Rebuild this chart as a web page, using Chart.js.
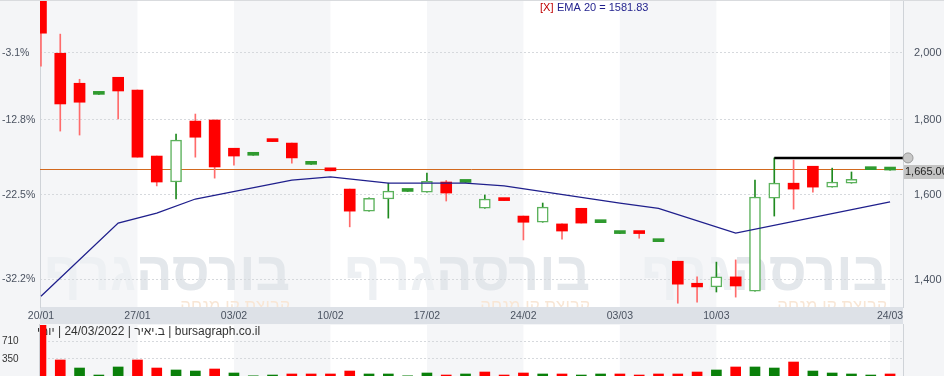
<!DOCTYPE html>
<html>
<head>
<meta charset="utf-8">
<script src="https://cdn.jsdelivr.net/npm/chart.js@4.4.0/dist/chart.umd.min.js"></script>
<style>
html, body { margin: 0; padding: 0; background: #fff; overflow: hidden; }
#wrap { position: relative; width: 944px; height: 376px; }
#main { position: absolute; left: 0; top: 0; }
#vol { position: absolute; left: 0; top: 324px; }
</style>
</head>
<body>
<div id="wrap">
  <canvas id="main" width="944" height="324"></canvas>
  <canvas id="vol" width="944" height="52"></canvas>
</div>
<script>
// trading days
const dates = ['20/01','23/01','24/01','25/01','26/01','27/01','30/01','31/01','01/02','02/02',
  '03/02','06/02','07/02','08/02','09/02','10/02','13/02','14/02','15/02','16/02',
  '17/02','20/02','21/02','22/02','23/02','24/02','27/02','28/02','01/03','02/03',
  '03/03','06/03','07/03','08/03','09/03','10/03','13/03','14/03','15/03','16/03',
  '20/03','21/03','22/03','23/03','24/03'];

const opens  = [2200,1998,1906,1873,1924,1886,1700,1632,1796,1799,1721,1702,1741,1735,1678,1665,1614,1559,1589,1608,
  1606,1632,1631,1566,1587,1547,1532,1528,1566,1531,1505,1507,1486,1441,1392,1384,1406,1375,1591,1629,
  1673,1619,1629,1664,1663];
const highs  = [2230,2059,1918,1875,1924,1886,1700,1760,1816,1799,1721,1704,1741,1735,1680,1665,1614,1592,1629,1610,
  1655,1636,1633,1599,1587,1547,1579,1528,1566,1533,1507,1507,1488,1441,1406,1439,1444,1637,1695,1689,
  1673,1668,1658,1666,1665];
const lows   = [1958,1768,1757,1873,1802,1697,1622,1589,1697,1642,1676,1702,1739,1681,1678,1661,1521,1559,1542,1608,
  1606,1584,1631,1566,1585,1490,1532,1492,1530,1531,1505,1494,1486,1349,1351,1373,1362,1375,1547,1564,
  1606,1619,1629,1664,1663];
const closes = [2062,1845,1850,1875,1883,1697,1632,1743,1751,1671,1700,1704,1739,1695,1680,1661,1559,1591,1609,1610,
  1634,1604,1633,1589,1585,1532,1569,1511,1530,1533,1507,1505,1488,1390,1384,1406,1386,1594,1629,1614,
  1619,1632,1639,1666,1665];
const volumes = [1150,325,162,20,183,325,162,122,101,142,61,4,20,41,41,41,101,41,41,4,
  61,20,41,81,20,61,41,41,20,41,41,20,41,41,81,122,183,183,162,284,
  101,61,41,20,41];

// EMA 20
const emaIdx  = [0,4,6,8,13,15,18,22,24,30,32,36,44];
const emaVals = [1364,1530,1554,1589,1637,1645,1629,1629,1622,1579,1566,1506,1581.83];

const tickIdx = [0,5,10,15,20,25,30,35,44];
const priceTicks = [1400,1600,1800,2000];
const volTicks = [350,710];
const baseClose = 2064;   // reference for the % axis
const lastPrice = 1665;
const trendFrom = 38;     // horizontal line from this candle's high
const trendEndX = 44.93;

const xMin = -0.05, xMax = 44.67;
const yMin = 1341, yMax = 2169;
const FONT = '"Liberation Sans", "DejaVu Sans", Arial, sans-serif';

const RED = '#ff0000', GREEN_LINE = '#5cb25c', GREEN_WICK = '#1f8a1f';

const bodyBg = [], bodyBorder = [], bodyBw = [], wickColor = [];
opens.forEach((o, i) => {
  const c = closes[i];
  const flat = Math.abs(c - o) / o < 0.003;
  const up = c >= o;
  if (!up) { bodyBg.push(RED); bodyBorder.push(RED); bodyBw.push(0); wickColor.push('#ff6b6b'); }
  else if (flat) { bodyBg.push('#2f9a2f'); bodyBorder.push('#2f9a2f'); bodyBw.push(0); wickColor.push(GREEN_WICK); }
  else { bodyBg.push('#ffffff'); bodyBorder.push(GREEN_LINE); bodyBw.push(1.5); wickColor.push(GREEN_WICK); }
});
const volColors = volumes.map((v, i) => (i > 0 && closes[i] >= closes[i - 1]) ? '#0a800a' : RED);

// no extra room for the edge labels
const noPad = s => { s.paddingTop = 0; s.paddingBottom = 0; s.paddingLeft = 0; s.paddingRight = 0; };

function bandEdges(chart) {
  const a = chart.chartArea, x = chart.scales.x;
  return [a.left].concat(tickIdx.slice(1).map(v => x.getPixelForValue(v)), [a.right]);
}

function paintBackground(chart) {
  const ctx = chart.ctx, a = chart.chartArea;
  ctx.save();
  ctx.fillStyle = '#f4f5f7';
  ctx.fillRect(0, 0, chart.width, chart.height);
  const e = bandEdges(chart);
  for (let k = 0; k < e.length - 1; k++) {
    ctx.fillStyle = k % 2 ? '#ffffff' : '#f5f6f8';
    ctx.fillRect(e[k], a.top, e[k + 1] - e[k], a.bottom - a.top);
  }
  ctx.restore();
}

function drawWatermark(ctx, right, base) {
  ctx.save();
  ctx.textAlign = 'right';
  ctx.textBaseline = 'alphabetic';
  ctx.font = 'bold 54px ' + FONT;
  ctx.fillStyle = '#e3e7eb';
  ctx.fillText('בורסה', right, base);
  const w = ctx.measureText('בורסה').width;
  ctx.fillStyle = '#edf0f3';
  ctx.fillText('גרף', right - w, base);
  ctx.font = '17px ' + FONT;
  ctx.fillStyle = '#f8e6d5';
  ctx.fillText('קבוצת קו מנחה', right, base + 21);
  ctx.restore();
}

const mainBg = {
  id: 'mainBg',
  beforeDraw(chart) {
    const ctx = chart.ctx, a = chart.chartArea;
    paintBackground(chart);
    ctx.save();
    ctx.beginPath();
    ctx.rect(a.left, a.top, a.right - a.left, chart.height - a.top);
    ctx.clip();
    [290, 590, 887].forEach(r => drawWatermark(ctx, r, 290));
    ctx.restore();
    ctx.save();
    ctx.fillStyle = '#dde1e7';
    ctx.fillRect(a.left, a.bottom, a.right - a.left, chart.height - a.bottom);
    ctx.fillStyle = '#d9dbde';
    ctx.fillRect(0, 0, chart.width, 1);
    ctx.restore();
  },
  beforeDatasetsDraw(chart) {
    const ctx = chart.ctx, a = chart.chartArea;
    const py = Math.round(chart.scales.y.getPixelForValue(lastPrice)) + 0.5;
    ctx.save();
    ctx.strokeStyle = '#d2691e';
    ctx.lineWidth = 1;
    ctx.beginPath();
    ctx.moveTo(a.left, py);
    ctx.lineTo(a.right, py);
    ctx.stroke();
    ctx.restore();
  },
  afterDraw(chart) {
    const ctx = chart.ctx, a = chart.chartArea;
    const py = Math.round(chart.scales.y.getPixelForValue(lastPrice));
    ctx.save();
    ctx.fillStyle = '#c4c4c4';
    ctx.fillRect(a.right + 1, py - 4, chart.width - a.right - 1, 14);
    ctx.fillStyle = '#222';
    ctx.font = '11px ' + FONT;
    ctx.textBaseline = 'middle';
    ctx.textAlign = 'left';
    ctx.fillText(lastPrice.toLocaleString('en-US', {minimumFractionDigits: 2}), a.right + 2, py + 3);
    // legend
    ctx.font = '11px ' + FONT;
    ctx.textBaseline = 'alphabetic';
    ctx.fillStyle = '#c00000';
    ctx.fillText('[X]', 540, 11);
    ctx.fillStyle = '#1f1f8c';
    ctx.fillText('EMA 20 = ' + emaVals[emaVals.length - 1].toFixed(2), 557, 11);
    ctx.restore();
  }
};

const axisFont = { family: FONT, size: 11 };

new Chart(document.getElementById('main'), {
  type: 'bar',
  data: {
    datasets: [
      {
        type: 'line', order: 1,
        data: [{ x: trendFrom, y: highs[trendFrom] }, { x: trendEndX, y: highs[trendFrom] }],
        borderColor: '#000', borderWidth: 2.5,
        pointRadius: [0, 5], pointBackgroundColor: '#c8c8c8', pointBorderColor: '#9a9a9a', pointBorderWidth: 1,
        clip: false
      },
      {
        type: 'line', order: 2,
        data: emaIdx.map((x, k) => ({ x: x, y: emaVals[k] })),
        borderColor: '#1f1f8c', borderWidth: 1.3, pointRadius: 0, tension: 0
      },
      {
        order: 3, grouped: false,
        data: opens.map((o, i) => ({ x: i, y: [o, closes[i]] })),
        backgroundColor: bodyBg, borderColor: bodyBorder, borderWidth: bodyBw,
        borderSkipped: false, barThickness: 11, minBarLength: 3
      },
      {
        order: 4, grouped: false,
        data: lows.map((l, i) => ({ x: i, y: [l, highs[i]] })),
        backgroundColor: wickColor, borderWidth: 0, barThickness: 1
      }
    ]
  },
  options: {
    responsive: false, animation: false, events: [],
    layout: { autoPadding: false, padding: { top: 1, left: 2 } },
    plugins: { legend: { display: false }, tooltip: { enabled: false } },
    scales: {
      x: {
        type: 'linear', min: xMin, max: xMax, offset: false, bounds: 'data',
        afterFit: s => { s.height = 17; noPad(s); },
        afterBuildTicks: s => { s.ticks = tickIdx.map(v => ({ value: v })); },
        grid: { display: false, drawTicks: false }, border: { display: false },
        ticks: { callback: v => dates[v], autoSkip: false, maxRotation: 0, padding: 3,
          color: '#4a5260', font: { family: FONT, size: 10.5 } }
      },
      y: {
        type: 'logarithmic', position: 'right', min: yMin, max: yMax, bounds: 'data',
        afterFit: s => { s.width = 41; noPad(s); },
        afterBuildTicks: s => { s.ticks = priceTicks.map(v => ({ value: v })); },
        ticks: { callback: v => v.toLocaleString('en-US'), padding: 11, color: '#4a5260', font: axisFont },
        grid: { color: '#d6d9dd', drawTicks: false },
        border: { color: '#cfd3d8', dash: [2, 2] }
      },
      y2: {
        type: 'logarithmic', position: 'left', min: yMin, max: yMax, bounds: 'data',
        afterFit: s => { s.width = 38; noPad(s); },
        afterBuildTicks: s => { s.ticks = priceTicks.map(v => ({ value: v })); },
        ticks: { callback: v => ((v / baseClose - 1) * 100).toFixed(1) + '%', crossAlign: 'far',
          color: '#4a5260', font: { family: FONT, size: 10.5 } },
        grid: { display: false, drawTicks: false },
        border: { color: '#cfd3d8' }
      }
    }
  },
  plugins: [mainBg]
});

const volBg = {
  id: 'volBg',
  beforeDraw(chart) {
    const ctx = chart.ctx, a = chart.chartArea;
    paintBackground(chart);
    ctx.save();
    ctx.fillStyle = '#cfd3d8';
    ctx.fillRect(a.right, 0, 1, chart.height);
    ctx.fillRect(a.left - 1, 0, 1, chart.height);
    ctx.restore();
  },
  beforeDatasetsDraw(chart) {
    const ctx = chart.ctx;
    ctx.save();
    ctx.font = '12px ' + FONT;
    ctx.fillStyle = '#333';
    ctx.textAlign = 'left';
    ctx.textBaseline = 'alphabetic';
    ctx.fillText('יומי\u200E | 24/03/2022 | ב.יאיר\u200E | bursagraph.co.il', 37, 11);
    ctx.restore();
  }
};

new Chart(document.getElementById('vol'), {
  type: 'bar',
  data: {
    datasets: [{
      data: volumes.map((v, i) => ({ x: i, y: v })),
      backgroundColor: volColors, barThickness: 10, grouped: false
    }]
  },
  options: {
    responsive: false, animation: false, events: [],
    layout: { autoPadding: false, padding: { top: 1, left: 2, right: 41, bottom: 0 } },
    plugins: { legend: { display: false }, tooltip: { enabled: false } },
    scales: {
      x: { type: 'linear', display: false, min: xMin, max: xMax, offset: false, bounds: 'data' },
      y: {
        position: 'left', min: 0, max: 1035, bounds: 'data',
        afterFit: s => { s.width = 38; noPad(s); },
        afterBuildTicks: s => { s.ticks = volTicks.map(v => ({ value: v })); },
        ticks: { crossAlign: 'far', color: '#333', font: { family: FONT, size: 10 } },
        grid: { color: '#d6d9dd', drawTicks: false },
        border: { display: false, dash: [2, 2] }
      }
    }
  },
  plugins: [volBg]
});
</script>
</body>
</html>
